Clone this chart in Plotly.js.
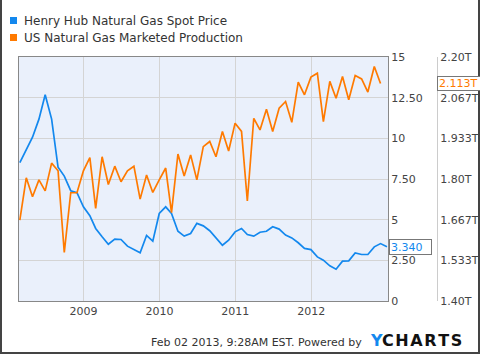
<!DOCTYPE html>
<html>
<head>
<meta charset="utf-8">
<script src="https://cdn.plot.ly/plotly-3.0.1.min.js"></script>
<style>html,body{margin:0;padding:0;background:#fff;}#chart{width:480px;height:354px;}</style>
</head>
<body>
<div id="chart"></div>
<script>
// ---- data (monthly, end of month, starting Feb 2008) ----
const seriesNames = ["Henry Hub Natural Gas Spot Price", "US Natural Gas Marketed Production"];
const startYear = 2008, startMonth = 2;
const henryHub = [8.51, 9.33, 10.07, 11.18, 12.68, 11.18, 8.22, 7.68, 6.78, 6.66, 5.79,
  5.24, 4.46, 3.95, 3.49, 3.80, 3.78, 3.37, 3.16, 2.96, 4.03, 3.68, 5.38,
  5.79, 5.38, 4.29, 3.99, 4.15, 4.77, 4.62, 4.32, 3.90, 3.43, 3.74, 4.25,
  4.46, 4.09, 3.99, 4.23, 4.29, 4.56, 4.42, 4.05, 3.88, 3.58, 3.23, 3.16,
  2.71, 2.51, 2.16, 1.95, 2.45, 2.47, 2.96, 2.86, 2.86, 3.33, 3.53, 3.34];
const production = [1.665, 1.804, 1.742, 1.797, 1.761, 1.852, 1.827, 1.559, 1.755, 1.755, 1.827,
  1.870, 1.704, 1.873, 1.782, 1.842, 1.791, 1.827, 1.842, 1.734, 1.813, 1.756, 1.797,
  1.836, 1.690, 1.882, 1.810, 1.879, 1.797, 1.906, 1.923, 1.873, 1.956, 1.892, 1.983,
  1.956, 1.728, 1.999, 1.961, 2.029, 1.956, 2.032, 2.054, 1.986, 2.118, 2.076, 2.134,
  2.147, 1.988, 2.120, 2.065, 2.136, 2.060, 2.139, 2.128, 2.085, 2.169, 2.113];
const xTickVals = ["2009-01-01", "2010-01-01", "2011-01-01", "2012-01-01"];
const xTickText = ["2009", "2010", "2011", "2012"];
const leftTickVals = [0, 2.5, 5, 7.5, 10, 12.5, 15];
const leftTickText = ["0", "2.50", "5", "7.50", "10", "12.50", "15"];
const rightTickVals = [1.4, 1.53333, 1.66667, 1.8, 1.93333, 2.06667, 2.2];
const rightTickText = ["1.40T", "1.533T", "1.667T", "1.80T", "1.933T", "2.067T", "2.20T"];
const lastHenryLabel = "3.340";
const lastProdLabel = "2.113T";
const footerText = "Feb 02 2013, 9:28AM EST. Powered by";

function monthEnd(i) {
  const m0 = startMonth - 1 + i;
  const y = startYear + Math.floor(m0 / 12);
  const m = m0 % 12;
  const d = new Date(Date.UTC(y, m + 1, 0));
  return d.toISOString().slice(0, 10);
}
const datesH = henryHub.map((_, i) => monthEnd(i));
const datesP = production.map((_, i) => monthEnd(i));

// ---- styling ----
const BLUE = "#1388ee", ORANGE = "#ff7a00";
const W = 480, H = 354, ML = 19, MR = 10, MT = 57, MB = 53;
const PW = W - ML - MR, PH = H - MT - MB;
const px = x => (x - ML) / PW;
const py = y => (H - MB - y) / PH;
const FONT = "DejaVu Sans, sans-serif";

const traces = [
  {x: datesH, y: henryHub, type: "scatter", mode: "lines", yaxis: "y",
   line: {color: BLUE, width: 1.7}, showlegend: false, hoverinfo: "skip"},
  {x: datesP, y: production, type: "scatter", mode: "lines", yaxis: "y2",
   line: {color: ORANGE, width: 1.7}, showlegend: false, hoverinfo: "skip"}
];

const layout = {
  width: W, height: H,
  margin: {l: ML, r: MR, t: MT, b: MB, pad: 0},
  paper_bgcolor: "#ffffff",
  plot_bgcolor: "#eaf0fb",
  font: {family: FONT, size: 11, color: "#333"},
  showlegend: false,
  xaxis: {
    type: "date", domain: [0, px(388)],
    range: ["2008-02-25", "2013-01-05"],
    tickmode: "array", tickvals: xTickVals, ticktext: xTickText,
    showgrid: true, gridcolor: "#d4d4d4", gridwidth: 1,
    showline: true, linecolor: "#888", linewidth: 1, mirror: true,
    ticks: "", zeroline: false,
    tickfont: {family: FONT, size: 11, color: "#444"}
  },
  yaxis: {
    side: "right", range: [0, 15],
    tickvals: leftTickVals, ticktext: leftTickText,
    showgrid: true, gridcolor: "#d4d4d4", gridwidth: 1,
    showline: true, linecolor: "#888", linewidth: 1, mirror: true,
    ticks: "", zeroline: false,
    tickfont: {family: FONT, size: 11, color: "#444"}
  },
  yaxis2: {
    overlaying: "y", anchor: "free", position: px(437), side: "right",
    range: [1.4, 2.2],
    tickvals: rightTickVals, ticktext: rightTickText,
    showgrid: false, zeroline: false,
    showline: true, linecolor: "#cccccc", linewidth: 1, ticks: "",
    tickfont: {family: FONT, size: 11, color: "#444"}
  },
  shapes: [
    {type: "rect", xref: "paper", yref: "paper", x0: px(10), x1: px(17), y0: py(24), y1: py(17),
     fillcolor: BLUE, line: {width: 0}},
    {type: "rect", xref: "paper", yref: "paper", x0: px(10), x1: px(17), y0: py(41), y1: py(34),
     fillcolor: ORANGE, line: {width: 0}},
    {type: "line", xref: "paper", yref: "paper", x0: px(1), x1: px(1), y0: py(0), y1: py(353),
     line: {color: "#444", width: 2}},
    {type: "line", xref: "paper", yref: "paper", x0: px(479), x1: px(479), y0: py(0), y1: py(353),
     line: {color: "#444", width: 2}},
    {type: "line", xref: "paper", yref: "paper", x0: px(0), x1: px(480), y0: py(353), y1: py(353),
     line: {color: "#444", width: 2}}
  ],
  annotations: [
    {xref: "paper", yref: "paper", x: px(22), y: py(20.5), xanchor: "left", yanchor: "middle",
     text: seriesNames[0], showarrow: false, font: {family: FONT, size: 12, color: "#333"}},
    {xref: "paper", yref: "paper", x: px(22), y: py(37.5), xanchor: "left", yanchor: "middle",
     text: seriesNames[1], showarrow: false, font: {family: FONT, size: 12, color: "#333"}},
    {xref: "paper", yref: "y", x: px(389), y: henryHub[henryHub.length - 1], xanchor: "left", yanchor: "middle",
     text: lastHenryLabel, showarrow: false, align: "left", width: 39, height: 12,
     bgcolor: "#ffffff", bordercolor: "#777", borderwidth: 1, borderpad: 1,
     font: {family: FONT, size: 11, color: BLUE}},
    {xref: "paper", yref: "y2", x: px(437), y: production[production.length - 1], xanchor: "left", yanchor: "middle",
     text: lastProdLabel, showarrow: false, align: "left", width: 44, height: 11,
     bgcolor: "#ffffff", bordercolor: "#777", borderwidth: 1, borderpad: 1,
     font: {family: FONT, size: 11, color: ORANGE}},
    {xref: "paper", yref: "paper", x: px(364), y: py(342), xanchor: "right", yanchor: "middle",
     text: footerText, showarrow: false, font: {family: FONT, size: 11, color: "#333"}},
    {xref: "paper", yref: "paper", x: px(368), y: py(340), xanchor: "left", yanchor: "middle",
     text: '<b><span style="color:' + BLUE + '">Y</span>C\u200AH\u200AA\u200AR\u200AT\u200AS</b>',
     showarrow: false, font: {family: FONT, size: 16, color: "#111"}}
  ]
};

Plotly.newPlot("chart", traces, layout, {staticPlot: true, displayModeBar: false});
</script>
</body>
</html>
